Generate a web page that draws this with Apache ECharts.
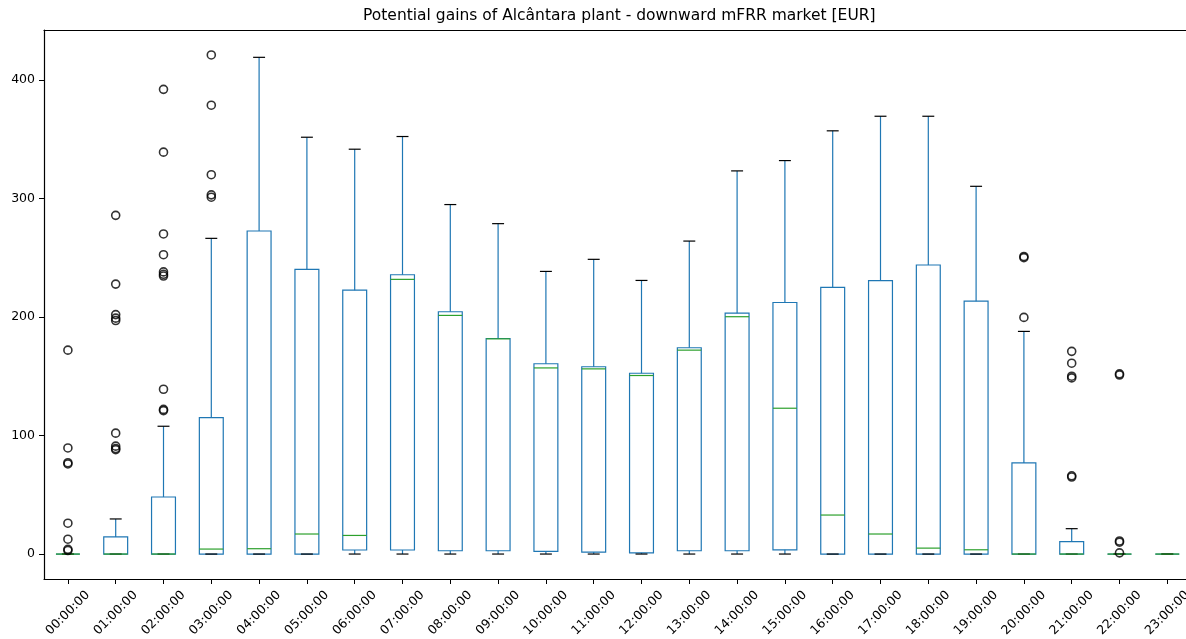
<!DOCTYPE html>
<html>
<head>
<meta charset="utf-8">
<title>Potential gains of Alcântara plant - downward mFRR market [EUR]</title>
<script src="https://cdn.jsdelivr.net/npm/echarts@6/dist/echarts.min.js"></script>
<style>
  html, body { margin: 0; padding: 0; background: #ffffff; }
  #chart { width: 1186px; height: 639px; }
</style>
</head>
<body>
<div id="chart"></div>
<script>
// Hour-of-day categories
const hours = [
  '00:00:00', '01:00:00', '02:00:00', '03:00:00', '04:00:00', '05:00:00',
  '06:00:00', '07:00:00', '08:00:00', '09:00:00', '10:00:00', '11:00:00',
  '12:00:00', '13:00:00', '14:00:00', '15:00:00', '16:00:00', '17:00:00',
  '18:00:00', '19:00:00', '20:00:00', '21:00:00', '22:00:00', '23:00:00'
];

// Box statistics per hour [EUR]
const whiskerLow = [0, 0, 0, 0, 0, 0, 0, 0, 0, 0, 0, 0, 0, 0, 0, 0, 0, 0, 0, 0, 0, 0, 0, 0];
const quartile1 = [0, 0, 0, 0, 0, 0, 3.4, 3.4, 2.8, 2.8, 2.3, 1.7, 1, 2.8, 2.8, 3.6, 0, 0, 0, 0, 0, 0, 0, 0];
const medians = [0, 0, 0, 4.2, 4.5, 16.9, 15.7, 231.7, 201.3, 181.5, 157, 156.2, 150.6, 172, 200.2, 123, 32.9, 16.9, 5, 3.6, 0, 0, 0, 0];
const quartile3 = [0, 14.4, 48.1, 115.1, 272.5, 240.1, 222.6, 235.6, 204.4, 181.8, 160.5, 158, 152.5, 174, 203.2, 212.2, 224.9, 230.6, 243.8, 213.3, 76.9, 10.4, 0, 0];
const whiskerHigh = [0, 29.6, 107.8, 266.3, 419, 351.6, 341.5, 352.2, 294.8, 278.7, 238.4, 248.6, 230.8, 264, 323.2, 331.9, 357, 369.3, 369.3, 310.2, 187.8, 21.4, 0, 0];

// Points beyond the whiskers, per hour
const fliers = [
  [172, 89.5, 77, 76, 26, 12.5, 4, 3],
  [285.7, 227.7, 202, 199, 197, 102, 91, 89, 88],
  [392, 339, 270, 252.5, 238, 236, 234.5, 139, 122, 121],
  [421, 378.6, 320, 303, 301],
  [], [], [], [], [], [], [], [], [], [], [], [], [], [], [], [],
  [251, 250, 199.6],
  [171, 161, 150, 148.6, 66, 65],
  [152, 151, 11, 10, 1],
  []
];

// Y axis tick labels
const yTicks = [0, 100, 200, 300, 400];

const hourIndex = hours.map((h, i) => i);
const boxData = hours.map((h, i) => [i, whiskerLow[i], quartile1[i], medians[i], quartile3[i], whiskerHigh[i]]);
const flierData = [];
fliers.forEach((vals, i) => vals.forEach(v => flierData.push([i, v])));

const BOX_COLOR = '#1f77b4';
const MEDIAN_COLOR = '#2ca02c';
const CAP_COLOR = '#000000';

// Box, whiskers, caps and median for one hour, placed through the axis scales
function renderBox(params, api) {
  const idx = api.value(0);
  const unit = api.size([1, 0])[0];
  const boxW = unit * 0.5;
  const capW = boxW * 0.5;
  const pLow = api.coord([idx, api.value(1)]);
  const pQ1 = api.coord([idx, api.value(2)]);
  const pMed = api.coord([idx, api.value(3)]);
  const pQ3 = api.coord([idx, api.value(4)]);
  const pHigh = api.coord([idx, api.value(5)]);
  const cx = pQ1[0];
  const line = (x1, y1, x2, y2, color) => ({
    type: 'line',
    shape: { x1: x1, y1: y1, x2: x2, y2: y2 },
    style: { stroke: color, lineWidth: 1.2 }
  });
  return {
    type: 'group',
    children: [
      {
        type: 'rect',
        shape: { x: cx - boxW / 2, y: pQ3[1], width: boxW, height: pQ1[1] - pQ3[1] },
        style: { fill: 'none', stroke: BOX_COLOR, lineWidth: 1.2 }
      },
      line(cx, pQ3[1], cx, pHigh[1], BOX_COLOR),
      line(cx, pQ1[1], cx, pLow[1], BOX_COLOR),
      line(cx - capW / 2, pHigh[1], cx + capW / 2, pHigh[1], CAP_COLOR),
      line(cx - capW / 2, pLow[1], cx + capW / 2, pLow[1], CAP_COLOR),
      line(cx - boxW / 2, pMed[1], cx + boxW / 2, pMed[1], MEDIAN_COLOR)
    ]
  };
}

const chart = echarts.init(document.getElementById('chart'), null, { renderer: 'canvas' });

const GRID_LEFT = 44;
const GRID_WIDTH = 1142;
const SLOT_PX = 47.8;

chart.setOption({
  backgroundColor: '#ffffff',
  animation: false,
  textStyle: { fontFamily: 'DejaVu Sans' },
  title: {
    text: 'Potential gains of Alcântara plant - downward mFRR market [EUR]',
    left: 363,
    top: 8,
    padding: 0,
    textStyle: { fontFamily: 'DejaVu Sans', fontSize: 15.5, fontWeight: 'normal', color: '#000000' }
  },
  grid: {
    left: GRID_LEFT,
    top: 30,
    width: GRID_WIDTH,
    height: 549,
    containLabel: false,
    outerBoundsMode: 'none',
    show: false
  },
  xAxis: [
    {
      type: 'value',
      position: 'bottom',
      min: -0.5,
      max: -0.5 + GRID_WIDTH / SLOT_PX,
      axisLine: { show: true, onZero: false, lineStyle: { color: '#000000', width: 1.2 } },
      axisTick: { show: true, length: 5, lineStyle: { color: '#000000' }, customValues: hourIndex },
      axisLabel: {
        customValues: hourIndex,
        formatter: v => hours[v],
        rotate: 45,
        align: 'center',
        verticalAlign: 'middle',
        margin: 34,
        fontSize: 12.5,
        color: '#000000',
        fontFamily: 'DejaVu Sans'
      },
      splitLine: { show: false }
    },
    {
      // top frame line
      type: 'value',
      position: 'top',
      min: -0.5,
      max: -0.5 + GRID_WIDTH / SLOT_PX,
      axisLine: { show: true, onZero: false, lineStyle: { color: '#000000', width: 1.2 } },
      axisTick: { show: false },
      axisLabel: { show: false },
      splitLine: { show: false }
    }
  ],
  yAxis: {
    type: 'value',
    min: -21.05,
    max: 442.05,
    axisLine: { show: true, onZero: false, lineStyle: { color: '#000000', width: 1.2 } },
    axisTick: { show: true, length: 5, lineStyle: { color: '#000000' }, customValues: yTicks },
    axisLabel: {
      customValues: yTicks,
      margin: 9,
      fontSize: 12.5,
      color: '#000000',
      fontFamily: 'DejaVu Sans'
    },
    splitLine: { show: false }
  },
  series: [
    {
      type: 'custom',
      name: 'box',
      renderItem: renderBox,
      encode: { x: 0, y: [1, 2, 3, 4, 5] },
      data: boxData,
      clip: false,
      z: 2
    },
    {
      type: 'scatter',
      name: 'fliers',
      data: flierData,
      symbol: 'circle',
      symbolSize: 8,
      itemStyle: { color: 'rgba(255,255,255,0)', borderColor: '#000000', borderWidth: 1.6 },
      z: 3
    }
  ]
});
</script>
</body>
</html>
